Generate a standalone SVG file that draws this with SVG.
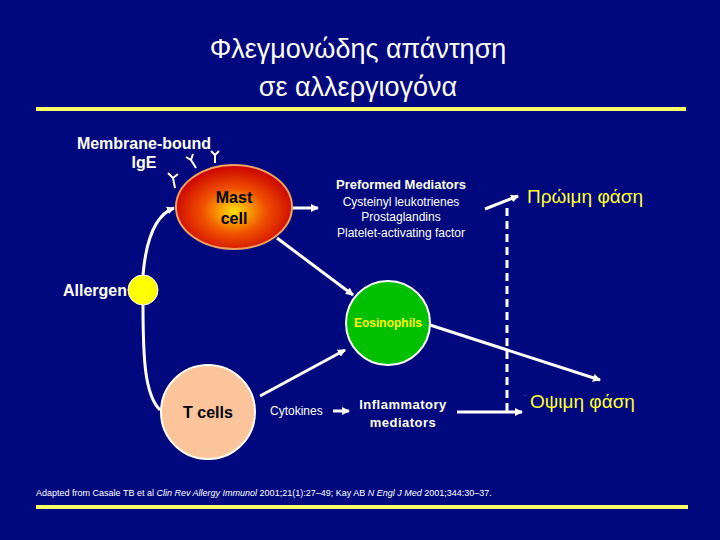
<svg xmlns="http://www.w3.org/2000/svg" width="720" height="540" viewBox="0 0 720 540">
<defs>
<radialGradient id="mg" cx="0.5" cy="0.55" r="0.55"><stop offset="0" stop-color="#ffe000"/><stop offset="0.5" stop-color="#f05000"/><stop offset="1" stop-color="#c80000"/></radialGradient>
<marker id="ah" markerWidth="8" markerHeight="8" refX="7" refY="4" orient="auto" markerUnits="userSpaceOnUse"><path d="M0,0 L8,4 L0,8 Z" fill="#fff"/></marker>
<style>
.s{font-family:"Liberation Sans",Arial,sans-serif}
.w{fill:#fff}
.ln{stroke:#fff;stroke-width:3;fill:none}
.y{stroke:#fff;stroke-width:2;fill:none}
</style>
</defs>
<rect width="720" height="540" fill="#00087e"/>
<g id="title" class="s" fill="#fff" font-size="27" text-anchor="middle">
<text x="358" y="58">Φλεγμονώδης απάντηση</text>
<text x="358" y="96">σε αλλεργιογόνα</text>
</g>
<rect x="36" y="107" width="650" height="4" fill="#ffff66"/>
<g id="connectors">
<path class="ln" d="M143,275 C146,240 155,215 174,208" marker-end="url(#ah)"/>
<path class="ln" d="M143,305 C143,360 145,395 160,410"/>
<line class="ln" x1="292" y1="208" x2="318" y2="208" marker-end="url(#ah)"/>
<line class="ln" x1="277" y1="238" x2="353" y2="295" marker-end="url(#ah)"/>
<line class="ln" x1="260" y1="396" x2="345" y2="350" marker-end="url(#ah)"/>
<line class="ln" x1="333" y1="411" x2="349" y2="411" marker-end="url(#ah)" stroke-width="2"/>
<line class="ln" x1="457" y1="412" x2="522" y2="412" marker-end="url(#ah)"/>
<line class="ln" x1="485" y1="209" x2="518" y2="196" marker-end="url(#ah)"/>
<line class="ln" x1="430" y1="325" x2="600" y2="380" marker-end="url(#ah)"/>
<line x1="507" y1="208" x2="507" y2="412" stroke="#fff" stroke-width="3" stroke-dasharray="8,5"/>
</g>
<g id="ige">
<path class="y" d="M175,188 L173,178 M173,178 L168,173 M173,178 L178,174"/>
<path class="y" d="M196,168 L191,160 M191,160 L186,157 M191,160 L193,154"/>
<path class="y" d="M215,163 L215,155 M215,155 L211,151 M215,155 L219,151"/>
<text class="s w" x="144" y="149" font-size="16" font-weight="bold" text-anchor="middle">Membrane-bound</text>
<text class="s w" x="144" y="168" font-size="16" font-weight="bold" text-anchor="middle">IgE</text>
</g>
<g id="mast">
<ellipse cx="234" cy="207" rx="58" ry="42" fill="url(#mg)" stroke="#f0a060" stroke-width="2"/>
<text class="s" x="234" y="203" font-size="16" font-weight="bold" text-anchor="middle" fill="#000">Mast</text>
<text class="s" x="234" y="224" font-size="16" font-weight="bold" text-anchor="middle" fill="#000">cell</text>
</g>
<g id="allergen">
<circle cx="143" cy="290" r="15" fill="#ffff00" stroke="#fff" stroke-width="1"/>
<text class="s w" x="127" y="296" font-size="16" font-weight="bold" text-anchor="end">Allergen</text>
</g>
<g id="preformed" class="s w" text-anchor="middle">
<text x="401" y="189" font-size="13" font-weight="bold">Preformed Mediators</text>
<text x="401" y="206" font-size="12">Cysteinyl leukotrienes</text>
<text x="401" y="221" font-size="12">Prostaglandins</text>
<text x="401" y="237" font-size="12">Platelet-activating factor</text>
</g>
<g id="eos">
<circle cx="388" cy="323" r="42" fill="#00c000" stroke="#fff" stroke-width="2"/>
<text class="s" x="388" y="327" font-size="12" font-weight="bold" text-anchor="middle" fill="#ffff00">Eosinophils</text>
</g>
<g id="tcells">
<circle cx="208" cy="412" r="47" fill="#fbc49a" stroke="#fff" stroke-width="2"/>
<text class="s" x="208" y="418" font-size="16" font-weight="bold" text-anchor="middle" fill="#000">T cells</text>
</g>
<text id="cytokines" class="s w" x="270" y="415" font-size="12">Cytokines</text>
<g id="inflam" class="s w" font-size="13" font-weight="bold" text-anchor="middle" letter-spacing="0.5">
<text x="403" y="409">Inflammatory</text>
<text x="403" y="427">mediators</text>
</g>
<text id="early" class="s" x="527" y="203" font-size="19" fill="#ffff33">Πρώιμη φάση</text>
<g id="late">
<text class="s" x="524" y="400" font-size="8" fill="#a0c0ff">¨</text>
<text class="s" x="530" y="408" font-size="19" fill="#ffff33">Οψιμη φάση</text>
</g>
<text class="s w" x="36" y="496" font-size="9">Adapted from Casale TB et al <tspan font-style="italic">Clin Rev Allergy Immunol</tspan> 2001;21(1):27–49; Kay AB <tspan font-style="italic">N Engl J Med</tspan> 2001;344:30–37.</text>
<rect x="36" y="505" width="652" height="4" fill="#ffff66"/>
</svg>
